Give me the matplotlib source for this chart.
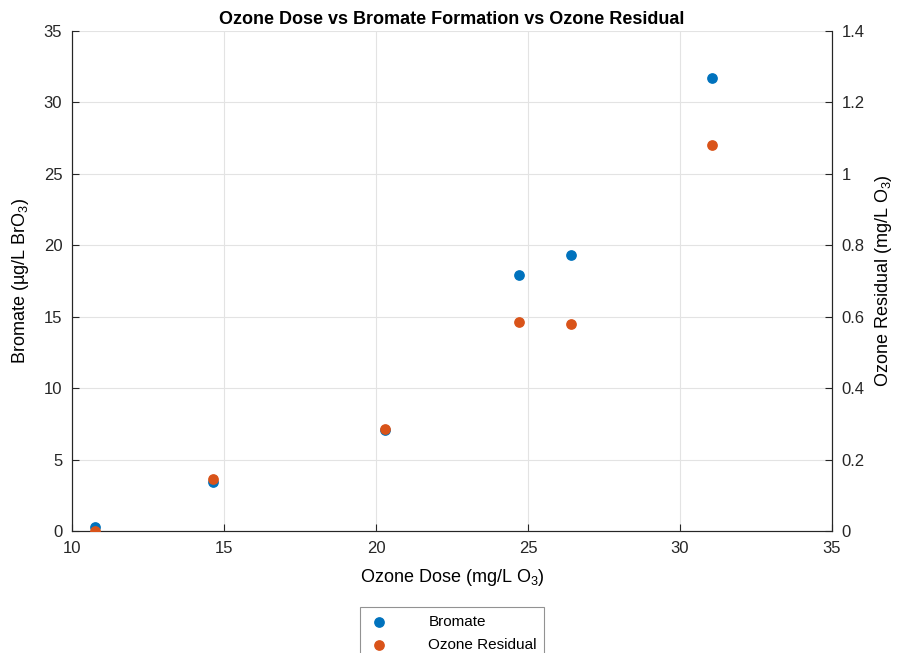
import matplotlib
matplotlib.use("Agg")
import matplotlib.pyplot as plt

plt.rcParams['font.family'] = ['Liberation Sans', 'DejaVu Sans']
plt.rcParams['mathtext.fontset'] = 'custom'
plt.rcParams['mathtext.rm'] = 'Liberation Sans'
plt.rcParams['mathtext.it'] = 'Liberation Sans'
plt.rcParams['mathtext.bf'] = 'Liberation Sans:bold'

# data
ozone_dose = [10.75, 14.65, 20.3, 24.7, 26.4, 31.05]
bromate = [0.25, 3.45, 7.1, 17.9, 19.35, 31.7]
ozone_residual = [0.0, 0.145, 0.285, 0.585, 0.58, 1.08]

blue = '#0072BD'
orange = '#D95319'
spine_col = '#262626'

fig = plt.figure(figsize=(8.97, 6.53), dpi=100)
ax = fig.add_axes([72 / 897, 122 / 653, 760 / 897, 500 / 653])
ax2 = ax.twinx()

h1 = ax.scatter(ozone_dose, bromate, s=45, color=blue, zorder=3, label='Bromate')
h2 = ax2.scatter(ozone_dose, ozone_residual, s=45, color=orange, zorder=3, label='Ozone Residual')

ax.set_xlim(10, 35)
ax.set_ylim(0, 35)
ax2.set_ylim(0, 1.4)
ax.set_xticks(range(10, 36, 5))
ax.set_yticks(range(0, 36, 5))
ax2.set_yticks([0, 0.2, 0.4, 0.6, 0.8, 1.0, 1.2, 1.4])
ax2.set_yticklabels(['0', '0.2', '0.4', '0.6', '0.8', '1', '1.2', '1.4'])

ax.grid(True, color='#e3e3e3', linewidth=0.8)
ax.set_axisbelow(True)

for a in (ax, ax2):
    a.spines['top'].set_visible(False)
    a.tick_params(direction='in', length=5, labelsize=12, colors=spine_col, width=0.8, pad=7)
    for s in a.spines.values():
        s.set_color(spine_col)
        s.set_linewidth(0.8)
ax.spines['bottom'].set_color('#555555')

ax.set_xlabel('Ozone Dose (mg/L O$_3$)', fontsize=13, labelpad=8)
ax.set_ylabel('Bromate (µg/L BrO$_3$)', fontsize=13, labelpad=9)
ax2.set_ylabel('Ozone Residual (mg/L O$_3$)', fontsize=13, labelpad=6)
ax.set_title('Ozone Dose vs Bromate Formation vs Ozone Residual', fontsize=13, fontweight='bold', pad=5)

leg = fig.legend([h1, h2], ['Bromate', 'Ozone Residual'], loc='upper center',
                 bbox_to_anchor=(452 / 897, 46 / 653), fontsize=11, frameon=True,
                 fancybox=False, edgecolor='#777777', handletextpad=2.4, borderpad=0.5,
                 handlelength=1.6, labelspacing=0.6, borderaxespad=0)
leg.get_frame().set_linewidth(0.8)

fig.savefig('out.png', dpi=100)
